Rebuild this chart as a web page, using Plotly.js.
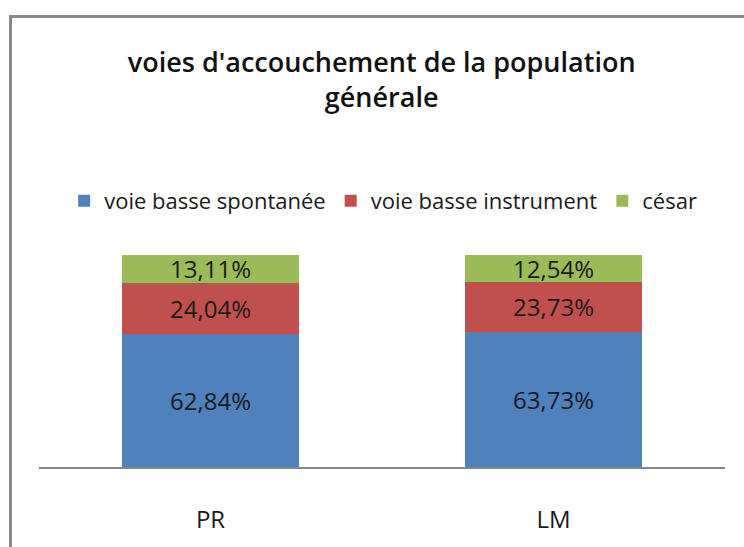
<!DOCTYPE html>
<html>
<head>
<meta charset="utf-8">
<script src="https://cdn.plot.ly/plotly-3.0.1.min.js"></script>
<style>
  html, body { margin: 0; padding: 0; background: #ffffff; }
  #wrap { position: relative; width: 744px; height: 547px; overflow: hidden; }
  #frame { position: absolute; left: 9px; top: 15px; width: 900px; height: 700px;
           border-left: 3px solid #888888; border-top: 3px solid #888888; pointer-events: none; }
  #chart { position: absolute; left: 0; top: 0; width: 744px; height: 547px; }
</style>
</head>
<body>
<div id="wrap">
  <div id="frame"></div>
  <div id="chart"></div>
</div>
<script>
const categories = ["PR", "LM"];
const seriesNames = ["voie basse spontanée", "voie basse instrument", "césar"];
const spontanee = [62.84, 63.73];
const instrument = [24.04, 23.73];
const cesar = [13.11, 12.54];
const colors = ["#4F81BD", "#C0504D", "#9BBB59"];

const FONT = "'Open Sans', 'Noto Sans', sans-serif";
function fmt(arr) { return arr.map(v => v.toFixed(2).replace('.', ',') + '%'); }

const seriesValues = [spontanee, instrument, cesar];
const traces = seriesValues.map((vals, i) => ({
  type: 'bar',
  name: seriesNames[i],
  x: categories,
  y: vals,
  text: fmt(vals),
  textposition: 'inside',
  insidetextanchor: 'middle',
  textangle: 0,
  constraintext: 'none',
  textfont: { family: FONT, size: 24, color: '#1a1a1a' },
  marker: { color: colors[i], line: { width: 0 } },
  hoverinfo: 'skip'
}));

const layout = {
  width: 744,
  height: 547,
  barmode: 'stack',
  bargap: 0.484,
  paper_bgcolor: 'rgba(0,0,0,0)',
  plot_bgcolor: 'rgba(0,0,0,0)',
  margin: { l: 39, r: 19, t: 255, b: 80 },
  font: { family: FONT, color: '#1a1a1a' },
  title: {
    text: "voies d'accouchement de la population<br>générale",
    font: { family: FONT, size: 27, color: '#111111', weight: 600 },
    x: 0.513, xref: 'container', xanchor: 'center',
    y: 1 - 72 / 547, yref: 'container', yanchor: 'top'
  },
  showlegend: true,
  legend: {
    orientation: 'h',
    x: 0.515, xref: 'container', xanchor: 'center',
    y: 1 - 201 / 547, yref: 'container', yanchor: 'middle',
    font: { family: FONT, size: 22, color: '#1a1a1a' },
    traceorder: 'normal',
    bgcolor: 'rgba(0,0,0,0)'
  },
  xaxis: {
    showline: true, linecolor: '#868686', linewidth: 2,
    showgrid: false, zeroline: false, ticks: '',
    ticklabelstandoff: 30,
    tickfont: { family: FONT, size: 24, color: '#1a1a1a' }
  },
  yaxis: {
    visible: false, range: [0, 100], fixedrange: true
  }
};

Plotly.newPlot('chart', traces, layout, { staticPlot: true, displayModeBar: false });
</script>
</body>
</html>
